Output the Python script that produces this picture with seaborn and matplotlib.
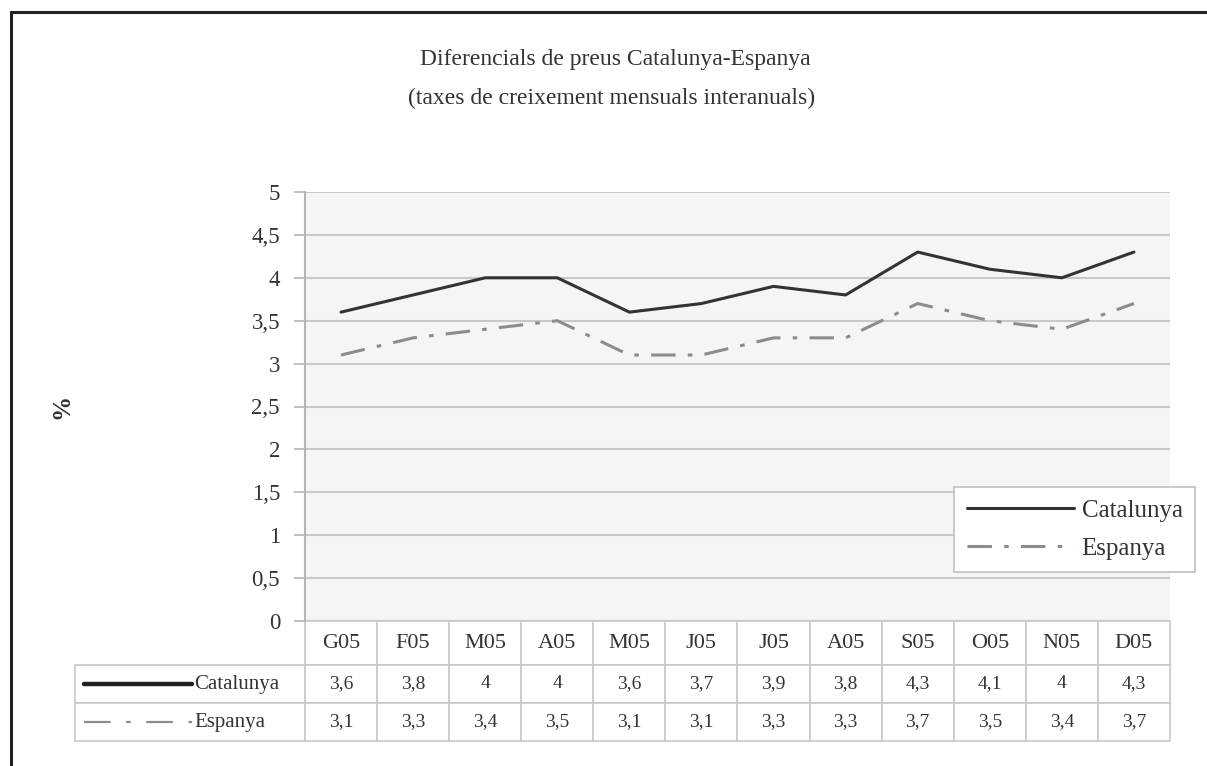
import numpy as np
import pandas as pd
import matplotlib
matplotlib.use('Agg')
import matplotlib.pyplot as plt
from matplotlib.lines import Line2D
import seaborn as sns

# dades
mesos = ['G05', 'F05', 'M05', 'A05', 'M05', 'J05', 'J05', 'A05', 'S05', 'O05', 'N05', 'D05']
catalunya = [3.6, 3.8, 4, 4, 3.6, 3.7, 3.9, 3.8, 4.3, 4.1, 4, 4.3]
espanya = [3.1, 3.3, 3.4, 3.5, 3.1, 3.1, 3.3, 3.3, 3.7, 3.5, 3.4, 3.7]
series = ['Catalunya', 'Espanya']
yticks = [0, 0.5, 1, 1.5, 2, 2.5, 3, 3.5, 4, 4.5, 5]

sns.set_theme(style='ticks')
plt.rcParams['font.family'] = ['Liberation Serif', 'DejaVu Serif']

df = pd.DataFrame({'pos': np.arange(len(mesos)), 'Catalunya': catalunya, 'Espanya': espanya})

W, H = 1207, 766
fig = plt.figure(figsize=(W / 100, H / 100), dpi=100, facecolor='white')
# plot area in pixels
px_l, px_r, px_t, px_b = 305, 1170, 192, 621
ax = fig.add_axes([px_l / W, 1 - px_b / H, (px_r - px_l) / W, (px_b - px_t) / H])
ax.set_facecolor('#f5f5f5')

col_cat = '#333333'
col_esp = '#8c8c8c'
esp_ls = (0, (8, 4, 1.5, 4))
sns.lineplot(data=df, x='pos', y='Catalunya', ax=ax, color=col_cat, lw=2.2, label='Catalunya')
sns.lineplot(data=df, x='pos', y='Espanya', ax=ax, color=col_esp, lw=2.2,
             linestyle=esp_ls, label='Espanya')

ax.set_xlim(-0.5, len(mesos) - 0.5)
ax.set_ylim(0, 5)
ax.set_yticks(yticks)
ax.set_yticklabels([f'{v:g}'.replace('.', ',') for v in yticks], fontsize=16.5, color='#333333')
ax.set_xticks([])
ax.set_xlabel('')
ax.grid(axis='y', color='#c8c8c8', lw=1.5)
ax.set_axisbelow(True)
for s in ['top', 'right', 'bottom']:
    ax.spines[s].set_visible(False)
ax.spines['left'].set_color('#b5b5b5')
ax.spines['left'].set_linewidth(1.5)
ax.tick_params(axis='y', length=8, width=1.2, color='#b5b5b5', pad=10)
ax.set_ylabel('%', fontsize=18, fontweight='bold', color='#333333')
ax.yaxis.set_label_coords(-0.268, 0.5)

leg = ax.legend(loc='lower right', bbox_to_anchor=(1.029, 0.114), borderaxespad=0,
                fontsize=18, handlelength=4.3, handletextpad=0.3, labelspacing=0.6,
                borderpad=0.5, frameon=True, fancybox=False, framealpha=1,
                edgecolor='#c0c0c0')
leg.get_frame().set_linewidth(1.2)
for t in leg.get_texts():
    t.set_color('#333333')

# taula de dades sota el gràfic
lab_l, head_h, row_h = 75, 44, 38
col_w = (px_r - px_l) / len(mesos)
lab_w = px_l - lab_l
tab_h = head_h + 2 * row_h
fmt = lambda v: f'{v:g}'.replace('.', ',')
cell_text = [[s] + [fmt(v) for v in vals] for s, vals in zip(series, [catalunya, espanya])]
tbl = ax.table(cellText=cell_text, colLabels=[''] + mesos,
               colWidths=[lab_w] + [col_w] * len(mesos),
               cellLoc='center',
               bbox=[(lab_l - px_l) / (px_r - px_l), -tab_h / (px_b - px_t),
                     (px_r - lab_l) / (px_r - px_l), tab_h / (px_b - px_t)])
tbl.auto_set_font_size(False)
tbl.set_fontsize(14)
for (r, c), cell in tbl.get_celld().items():
    cell.set_edgecolor('#c8c8c8')
    cell.set_linewidth(1.2)
    cell.set_facecolor('white')
    cell.get_text().set_color('#333333')
    cell.set_height(head_h if r == 0 else row_h)
    if r == 0:
        cell.get_text().set_fontsize(16)
    if c == 0 and r > 0:
        # etiqueta just després de la mostra de línia
        cell.get_text().set_fontsize(15)
        cell.get_text().set_ha('left')
        cell._loc = 'left'
        cell.PAD = 0.52
tbl[0, 0].visible_edges = ''
tbl[0, 0].set_facecolor('none')

# mostres de línia a la columna d'etiquetes
ax_w, ax_h = px_r - px_l, px_b - px_t
for i, (col, lw, ls) in enumerate([('#222222', 3.2, '-'), (col_esp, 1.6, (0, (12, 7, 2, 7)))]):
    yc = px_b + head_h + row_h * (i + 0.5)
    ax.add_line(Line2D([(84 - px_l) / ax_w, (192 - px_l) / ax_w],
                       [(px_b - yc) / ax_h] * 2, transform=ax.transAxes,
                       color=col, lw=lw, linestyle=ls, clip_on=False))

# títol
fig.text(615 / W, 1 - 59 / H, 'Diferencials de preus Catalunya-Espanya',
         ha='center', va='center', fontsize=17, color='#333333')
fig.text(612 / W, 1 - 98 / H, '(taxes de creixement mensuals interanuals)',
         ha='center', va='center', fontsize=17, color='#333333')

# marc superior i esquerre
fig.add_artist(Line2D([11 / W, 11 / W], [0, 1 - 12 / H], transform=fig.transFigure,
                      color='#222222', lw=2.2))
fig.add_artist(Line2D([11 / W, 1], [1 - 12 / H, 1 - 12 / H], transform=fig.transFigure,
                      color='#222222', lw=2.2))

fig.savefig('out.png', dpi=100)
